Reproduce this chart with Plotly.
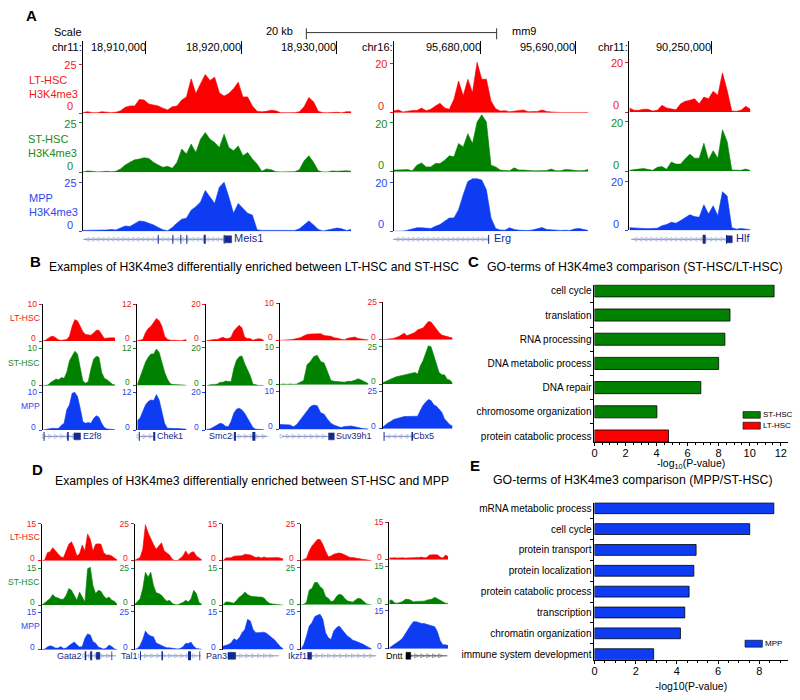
import numpy as np
import plotly.graph_objects as go

FONT = "Liberation Sans"
RED, GREEN, BLUE = "#fb0000", "#008200", "#0d3cf2"
TXT_R, TXT_G, TXT_B = "#f01818", "#1a8a1a", "#2a48ee"
NAVY, PALE = "#14298c", "#8795c8"

# ---------- Panel A ----------
A1_LT = [.3,.8,.3,.2,.8,.5,.3,.5,1.2,3,3.7,3.7,7,6.7,4.7,4.2,3.7,2.5,1.7,3.3,3.7,6.7,8.3,17.5,10,15,19.7,16.7,18.3,10.3,8.7,10,12.5,15.8,8.3,8.3,3.7,1,.7,1,1.5,1.2,.3,.2,.2,.3,.8,3.3,8,5.8,1,.3,.2,.5,.5,.2,.8,.7]
A1_ST = [.2,.7,.5,.2,.3,.5,.3,.5,1.7,3.7,5,6.3,6.7,7.3,7,5,3.7,2.5,3,2,5,11.7,9.2,14.2,10,16.7,20,16.7,15,12.5,19.2,12.5,10.8,13.3,8.3,10,6.7,4.2,.5,1.7,1.3,.3,.2,.2,.2,.3,1.3,5.8,8.3,5,.8,.2,.2,.7,.5,.7,.8,.5]
A1_MPP = [.5,.5,.7,.7,.8,.7,1,.7,1.7,2.7,2.5,3.7,5.3,5,4.2,3.3,2,.8,.3,2,4.2,6.2,6.7,10.8,12.5,15,20.8,17.5,14.2,22.5,25,17.5,9.2,14.2,11.7,9.2,8.3,.8,.5,.5,.7,.5,.5,.8,.5,.5,1.3,3.3,5.3,3.3,1,.2,.7,1.3,1.7,1.3,.5,1]
A2_LT = [.7,1.1,.3,.7,.9,.9,1.9,.8,1.4,2.7,3.8,1.9,1.4,5.4,12.8,6.8,13.5,8.1,20.3,13.5,13.5,4.7,1.6,.7,.8,.4,.7,.8,1.1,.4,.4,.5,1.1,.5,.3,.1,.1,.1,.1,.3,.4,.3,.1]
A2_ST = [.7,.9,.8,.9,.4,2.7,3.6,2,2,3.4,3.4,4.7,6.5,6.1,11.5,10.1,15.5,11.5,20.3,23.2,20.3,2.7,2,.7,.4,.4,1.6,.7,.7,.4,.4,.4,.4,.5,1.1,.4,.4,.9,.8,.5,.4,.5,.9]
A2_MPP = [0,0,0,.4,.8,1.4,1.4,1.4,1.1,2,2.7,4.1,5.4,5.4,8.8,14.9,20.3,21.4,21.4,20.9,16.9,5.4,1.1,.5,.4,1.4,.7,.4,.3,.3,.5,.9,1.5,.7,.5,.4,.3,.4,.3,.9,1.1,.7,.3]
A3_LT = [1.6,.7,.7,1.1,1.1,.4,.7,2.7,1.6,1.1,.9,3.3,4.3,4.7,5.3,3.3,6,5.3,8.3,6.7,15.7,8.7,.4,.3,.7,2.3,1.1]
A3_ST = [.4,.5,.9,1.1,.7,.4,1.6,1.9,.8,3.7,2.9,2.9,5.1,6.9,5.3,5.3,11.3,4.7,8.3,5.3,16.7,12,.5,.3,.4,.9,.3]
A3_MPP = [1.1,.9,.7,.8,.7,.7,.9,1.9,2.4,3.3,2.9,4,5.3,6.4,5.6,5.3,10.4,6.7,10,6,15.7,14,1.1,.5,.8,.4,.3]

# ---------- Panel B ----------
B1_LT = [0,.2,.7,1.2,1.3,.9,.3,.2,.2,.4,1.3,4,5.8,5.4,4,2.5,1.8,1.6,1.6,2.2,2.9,2.9,1.6,.7,.8,.9,.9,.8]
B1_ST = [0,.1,.2,.9,1.3,1.8,1.6,2.2,2,3.6,6.7,8,9.2,8.5,4.9,1.3,.7,1.1,4.5,7.1,7.9,7.6,3.6,2,1.6,1.1,.4,.2]
B1_MPP = [0,.2,.3,.4,.5,.4,.5,1.3,1.8,5.4,6.7,9.8,10,8.9,5.8,2.2,1.8,2,1.8,3.1,3.8,3.4,1.8,.7,.3,.2,.1,.1]
B2_LT = [.1,.3,.5,2.7,4.1,4.8,5.9,7.3,6.6,4.8,1.6,.6,.3,.2,.2,.1,.1,.3,.5]
B2_ST = [.2,2.7,5.4,7.5,9.1,10.2,10.2,11.8,10.7,7.5,4.3,2.1,.6,.3,.3,.2,.1,.1,0]
B2_MPP = [3,3.8,5.9,8,9.1,9.6,9.4,11.3,9.6,5.4,2.1,.6,.5,.4,.5,.5,.5,.4,.3]
B3_LT = [.2,.5,.7,.9,.9,1.4,2.1,1.4,1.4,2.1,5.4,7.1,8.6,7.1,2.1,1.4,1.4,.5,1.1,1.3,1.1,.4]
B3_ST = [0,.5,.7,.7,.9,1.8,1.8,2.5,2.3,2.1,8.9,13.4,15.2,15.7,11.6,8.9,5.4,.9,.4,.2,.2,0]
B3_MPP = [.5,.5,1.1,1.8,2.7,3.6,3.2,2.1,1.8,4.5,8.9,11.1,11.6,10.7,8.9,6.3,3.2,1.4,.5,.4,.2,.2]
B4_LT = [0,0,0,.2,.3,.4,.7,1.2,1.6,1.7,1.8,1.8,1.8,1.3,1.2,1.1,.7,.6,.3,.2,.6,.8,.9,.5,.3,.2,.1]
B4_ST = [0,.2,.1,.2,.1,.2,.7,1.1,5.3,6.2,7.5,7.8,6.2,5.8,3.5,1.1,.9,.8,.7,.7,.9,.9,1.2,1.6,1.2,.7,.3]
B4_MPP = [1.3,1.3,1.2,1.2,.7,1.3,2.5,3.7,4.9,6,6.4,6.2,4.4,4,2.7,1.6,1.1,.7,.5,.8,.9,.9,.7,.4,.3,.2,.1]
B5_LT = [0,.4,.4,.7,.9,1.3,2.2,3.3,4.4,2.7,3.3,4,4.9,6.7,7.1,7.8,10,12.2,11.8,9.3,7.1,4.9,3.1,2.7,2.2,1.8,1.1]
B5_ST = [.9,1.8,2.7,3.3,4,4.9,5.3,5.8,6.2,6.7,7.1,7.6,7.8,6.7,12.2,15.6,20,25.6,24.9,18.9,12.2,7.8,6.2,6.2,3.3,2.7,.7]
B5_MPP = [1.1,2.7,4,4.9,6.2,6.7,7.3,7.8,8.2,8.2,8.2,8.2,8.2,8.4,12.2,15.6,17.8,19.6,18.9,16,15.1,13.3,11.1,6.7,4.9,2.7,1.8]

# ---------- Panel D ----------
D1_LT = [0,.3,3.3,3.7,5.3,4,2.9,1.6,1.3,4,6.7,7.7,5.3,2,2.9,6.4,4,10.9,8.7,4,6.7,6.9,6.7,3.3,2.4,2.4,2,1.1,.4]
D1_ST = [.1,1.1,2,2.7,4.3,3.2,2.9,2.4,2.4,4,6.7,6,4,2,5.3,3.3,1.3,14.7,15.3,8,4.7,6,5.6,3.7,2.7,3.3,2,1.6,.4]
D1_MPP = [.1,.3,1.1,1.6,1.3,.7,.7,1.3,.5,.7,1.6,2.4,3.2,2,1.1,1.3,4.7,6.4,6,3.3,2.7,1.1,.8,.3,.7,1.9,1.3,.4,0]
D2_LT = [.4,1.1,2.2,7.8,24.4,18.9,14.4,11.1,7.8,10,12.2,6.7,5.6,4,1.1,.2,.2,1.8,3.3,6.7,4,5.6,6.2,3.3,1.8,.7]
D2_ST = [.4,2.2,4.4,11.1,22.2,18.9,22.2,13.3,8.4,7.8,6.7,4.4,2.7,3.3,1.1,.4,.2,1.1,1.8,3.3,2.2,4.4,10,7.8,1.8,.7]
D2_MPP = [.2,.7,2.7,6.7,12.2,10,8.9,8.4,4.4,3.3,2.7,1.8,1.1,1.1,.7,.7,.4,.7,1.8,4,4,4.9,2.2,.7,.4,.2]
D3_LT = [0,1.1,1.2,1.2,1.9,2,2.1,2.1,2.7,2.7,2.4,1.9,1.3,1.6,1.1,1.6,1.2,1.2,1.3,1.3,1.3,1.1,.7]
D3_ST = [0,1.3,1.3,1.1,.8,2,3.3,4,5.3,4.3,3.7,3.5,3.3,3.3,3.3,2.9,1.6,.8,.5,.3,.3,.1,0]
D3_MPP = [1.3,1.6,2,2.7,4.3,3.7,4.7,6.7,8,12,11.3,8,6.7,6.7,6.9,6.9,6.4,5.6,4.7,3.7,2.4,1.1,.3]
D4_LT = [0,.7,1.8,6.7,10,12.2,14.4,14.4,11.1,6.7,2.7,3.3,4.4,4.9,5.3,4.9,4,2.7,2.2,2.2,1.8,1.3,1.1,.9,.7,.2,0]
D4_ST = [0,.4,1.8,10,11.1,15.1,15.1,12.2,10.7,5.6,4.4,2.2,2.7,5.6,7.1,6.7,4.4,2.7,2.2,1.8,3.3,4.4,4,2.2,.7,.2,0]
D4_MPP = [.4,3.3,8.9,15.6,17.8,21.8,22.7,23.3,20,11.1,7.8,6.7,12.2,14.4,15.6,13.3,10.7,8.9,7.8,6.2,5.6,4.9,4.4,3.3,2.2,1.1,.4]
D5_LT = [.7,.9,.8,.7,.9,.8,.7,.7,.8,.8,.7,.9,1.1,.8,.9,1.9,2,2,2,1.1,.7,1.9,1.3]
D5_ST = [1.6,1.6,.5,.4,.7,1.1,1.9,1.9,1.6,.9,1.1,1.1,1.2,1.2,1.6,1.9,2,2.7,2.1,1.3,.9,.4,.3]
D5_MPP = [.4,1.1,1.6,2.4,3.3,4.3,6,8,9.3,10.7,10.7,10.4,10,10,9.6,9.3,9.1,8.7,6.7,3.3,1.6,1.6,1.3]

# ---------- Panels C, E ----------
C_TERMS = ["cell cycle","translation","RNA processing","DNA metabolic process","DNA repair","chromosome organization","protein catabolic process"]
C_VALUES = [11.57,8.73,8.4,8.0,6.85,4.02,4.77]
C_GROUP = ["ST-HSC"]*6 + ["LT-HSC"]
E_TERMS = ["mRNA metabolic process","cell cycle","protein transport","protein localization","protein catabolic process","transcription","chromatin organization","immune system development"]
E_VALUES = [8.7,7.53,4.93,4.82,4.59,4.38,4.17,2.87]

# gene models: name, line start, line end, arrow direction, thin/thick exons, boxes
GENES_A = [
 ("Meis1",82,224,"left",[(157.3,1),(172,1),(180,1),(186,1),(204,2),(223.5,1)],[(224,231)],233,"l"),
 ("Erg",393,489,"left",[(489,1)],[],494,"l"),
 ("Hlf",632,727,"left",[(705.3,3),(727.7,1)],[(728,733.5)],737.5,"l"),
]
GENES_B = [
 ("E2f8",43,77,"right",[(42.7,1),(66.7,1.6)],[(72.7,79.3)],81.5,"l"),
 ("Chek1",138,153,"right",[(138.3,1),(153.3,2)],[],156.5,"l"),
 ("Smc2",233.5,267,"right",[(234.3,2),(253.3,3)],[],231,"r"),
 ("Suv39h1",281.7,328.5,"right",[],[(328.3,334)],335.5,"l"),
 ("Cbx5",384,412,"left",[(384,1),(412.3,1.5)],[],413.5,"l"),
]
GENES_D = [
 ("Gata2",83.5,115,"right",[(84.3,1.5),(90,2),(110.7,.8)],[(95,98.7)],81,"r"),
 ("Tal1",139.5,200,"right",[(139.5,1),(161.3,1.5),(188.7,3),(199,.8)],[],137.5,"r"),
 ("Pan3",235,278.5,"right",[],[(227.3,235)],226.7,"r"),
 ("Ikzf1",311.3,376,"right",[],[(307.3,311.3)],306.7,"r"),
 ("Dntt",410.7,447.5,"right",[],[(406,410.7)],402.7,"r"),
]

W, H = 800, 700
OFFSET = 1.5
fig = go.Figure()
layout = {}
annos = []
shapes = []
ax_n = [0]


def px(x):
    return (x - OFFSET) / W


def py(y):
    return 1 - (y - OFFSET) / H


def new_axes(x0, x1, ytop, ybot, xcfg, ycfg):
    ax_n[0] += 1
    n = ax_n[0]
    layout[f"xaxis{n}"] = dict(domain=[px(x0), px(x1)], anchor=f"y{n}", **xcfg)
    layout[f"yaxis{n}"] = dict(domain=[py(ybot), py(ytop)], anchor=f"x{n}", **ycfg)
    return f"x{n}", f"y{n}"


def text(x, y, s, color="black", size=11, anchor="left", bold=False, xref=None):
    dy = 0.3 * size - 1.5 if size >= 10 else 0
    annos.append(dict(x=x if xref else px(x), y=py(y - dy), xref=xref or "paper", yref="paper",
                      text=f"<b>{s}</b>" if bold else s,
                      showarrow=False, xanchor=anchor, yanchor="middle", borderpad=0, borderwidth=0,
                      font=dict(family=FONT, size=size, color=color)))


def track(values, x0, x1, ytick, yzero, yaxis_top, ymax, color, tcolor, lw, tsize, zero_dx, zero_dy, shift):
    top = ymax * (yzero - yaxis_top) / (yzero - ytick)
    xa, ya = new_axes(x0, x1, yaxis_top, yzero,
                      dict(visible=False, range=[0, len(values) - 1], fixedrange=True),
                      dict(range=[0, top], showgrid=False, zeroline=False, showline=True, linecolor="black",
                           linewidth=lw, tickmode="array", tickvals=[0, ymax], ticktext=["", str(ymax)],
                           ticks="outside", ticklen=3, tickwidth=1, tickcolor=tcolor, ticklabelshift=shift,
                           tickfont=dict(family=FONT, size=tsize, color=tcolor), fixedrange=True))
    fig.add_trace(go.Scatter(x=list(range(len(values))), y=values, mode="lines", fill="tozeroy", fillcolor=color,
                             line=dict(color=color, width=0.6), xaxis=xa, yaxis=ya, showlegend=False,
                             hoverinfo="skip"))
    text(x0 - zero_dx, yzero - zero_dy, "0", tcolor, tsize, "right")


def gene_row(genes, yc, size, spacing):
    xa, ya = new_axes(OFFSET, W + OFFSET, yc - 8, yc + 8,
                      dict(visible=False, range=[OFFSET, W + OFFSET], fixedrange=True),
                      dict(visible=False, range=[-8, 8], fixedrange=True))
    for name, s, e, direction, exons, boxes, lx, side in genes:
        col = "black" if name == "Dntt" else NAVY
        pale = "#555555" if name == "Dntt" else PALE
        fig.add_trace(go.Scatter(x=[s, e], y=[0, 0], mode="lines", line=dict(color=pale, width=1), xaxis=xa, yaxis=ya,
                                 showlegend=False, hoverinfo="skip"))
        marks = list(np.arange(s + 2, e, spacing))
        fig.add_trace(go.Scatter(x=marks, y=[0] * len(marks), mode="markers",
                                 marker=dict(symbol=f"arrow-{direction}-open", size=4, color=pale,
                                             line=dict(color=pale, width=.5)),
                                 xaxis=xa, yaxis=ya, showlegend=False, hoverinfo="skip"))
        for pos, wd in exons:
            fig.add_trace(go.Scatter(x=[pos, pos], y=[-4.5, 4.5], mode="lines", line=dict(color=col, width=wd),
                                     xaxis=xa, yaxis=ya, showlegend=False, hoverinfo="skip"))
        for a, b in boxes:
            fig.add_trace(go.Scatter(x=[a, b, b, a, a], y=[-3.5, -3.5, 3.5, 3.5, -3.5], mode="lines", fill="toself",
                                     fillcolor=col, line=dict(color=col, width=.5), xaxis=xa, yaxis=ya,
                                     showlegend=False, hoverinfo="skip"))
        text(lx, yc, name, col, size, "left" if side == "l" else "right")


# ---------- A ----------
A_COLS = [
 (81.7, 351, 25, (A1_LT, A1_ST, A1_MPP), [(61, 110.5), (120, 170), (180, 229.5)]),
 (393.7, 589, 20, (A2_LT, A2_ST, A2_MPP), [(60, 110), (120, 169.5), (180, 229.3)]),
 (630.3, 751.7, 20, (A3_LT, A3_ST, A3_MPP), [(59, 109.3), (119, 169), (179, 228.5)]),
]
for x0, x1, ymax, series, ys in A_COLS:
    prev = 38
    for vals, (yt, yz), c, tc in zip(series, ys, (RED, GREEN, BLUE), (TXT_R, TXT_G, TXT_B)):
        track(vals, x0, x1, yt, yz, prev, ymax, c, tc, 1.2, 11, 10, 5, 1)
        prev = yz

HEAD = [
 (81.7, 351, [18903372, 18931571], [18910000, 18920000, 18930000], ["18,910,000", "18,920,000", "18,930,000"], "chr11:"),
 (393.7, 589, [95670811, 95691368], [95680000, 95690000], ["95,680,000", "95,690,000"], "chr16:"),
 (630.3, 751.7, [90241337, 90254147], [90250000], ["90,250,000"], "chr11:"),
]
for x0, x1, rng, tv, tt, chrom in HEAD:
    xa, ya = new_axes(x0, x1, 38, 51,
                      dict(range=rng, showgrid=False, zeroline=False, showline=False, tickmode="array", tickvals=tv,
                           showticklabels=False, ticks="inside", ticklen=13, tickwidth=1, tickcolor="black",
                           fixedrange=True),
                      dict(visible=False, range=[0, 1], fixedrange=True))
    fig.add_trace(go.Scatter(x=tv, y=[0] * len(tv), mode="markers", marker=dict(opacity=0), xaxis=xa, yaxis=ya,
                             showlegend=False, hoverinfo="skip"))
    for v, s in zip(tv, tt):
        text(v, 46, s, "black", 11, "right", xref=xa)
    text(x0 - 1.2, 46, chrom, "black", 11, "right")

gene_row(GENES_A, 237.5, 11, 5)

# ---------- B, D ----------
B_COLS = [
 (41.3, 114, 10, (B1_LT, B1_ST, B1_MPP), [(158, 270), (292, 405), (425, 539)]),
 (136.3, 185.7, 12, (B2_LT, B2_ST, B2_MPP), [(158, 270), (292, 404), (425, 539)]),
 (205.7, 263.3, 20, (B3_LT, B3_ST, B3_MPP), [(158, 270), (290, 405), (425, 539)]),
 (279.3, 368.3, 10, (B4_LT, B4_ST, B4_MPP), [(155, 268), (288, 402), (422, 537)]),
 (382.7, 452.7, 25, (B5_LT, B5_ST, B5_MPP), [(153, 266), (287, 400), (422, 535)]),
]
D_COLS = [
 (40.7, 116, 15, (D1_LT, D1_ST, D1_MPP), [(192, 304), (326, 438), (460, 573)]),
 (133.7, 201, 25, (D2_LT, D2_ST, D2_MPP), [(192, 304), (326, 438), (458, 572)]),
 (222.3, 282.7, 15, (D3_LT, D3_ST, D3_MPP), [(192, 304), (326, 438), (458, 572)]),
 (300.7, 371.7, 25, (D4_LT, D4_ST, D4_MPP), [(192, 304), (325, 437), (458, 572)]),
 (389.3, 448.3, 15, (D5_LT, D5_ST, D5_MPP), [(188, 301), (320, 435), (455, 570)]),
]
for cols, base in ((B_COLS, 250), (D_COLS, 460)):
    for x0, x1, ymax, series, ys in cols:
        prev = None
        for vals, (yt, yz), c, tc in zip(series, ys, (RED, GREEN, BLUE), (TXT_R, TXT_G, TXT_B)):
            ytick, yzero = base + yt / 3, base + yz / 3
            track(vals, x0, x1, ytick, yzero, prev if prev else ytick, ymax, c, tc, 1.1, 8.5, 7, 3, 0)
            prev = yzero

gene_row(GENES_B, 436, 9, 6)
gene_row(GENES_D, 657, 9, 6)

# ---------- C, E ----------
def barpanel(terms, values, colors, x0, x1, ytop, ybot, xmax, rng, gap, title, stand):
    xcfg = dict(range=[0, xmax], showgrid=False, zeroline=False, showline=True, linecolor="black", linewidth=1,
                tickmode="linear", tick0=0, dtick=2, ticks="outside", ticklen=3, tickcolor="black",
                ticklabelstandoff=-2,
                minor=dict(ticks="outside", dtick=.5, ticklen=2, tickcolor="black"),
                tickfont=dict(family=FONT, size=11, color="black"), fixedrange=True)
    if title:
        xcfg["title"] = dict(text=title, font=dict(family=FONT, size=10.5, color="black"), standoff=stand)
    xa, ya = new_axes(x0, x1, ytop, ybot, xcfg,
                      dict(type="category", categoryorder="array", categoryarray=terms, range=rng, showgrid=False,
                           zeroline=False, showline=True, linecolor="black", linewidth=1, ticks="outside", ticklen=3,
                           tickcolor="black", tickson="boundaries", tickfont=dict(family=FONT, size=10, color="black"),
                           fixedrange=True))
    fig.add_trace(go.Bar(x=values, y=terms, orientation="h", width=1 - gap,
                         marker=dict(color=colors, line=dict(color="black", width=.8)), xaxis=xa, yaxis=ya,
                         showlegend=False, hoverinfo="skip"))


C_COLORS = [GREEN if g == "ST-HSC" else RED for g in C_GROUP]
barpanel(C_TERMS, C_VALUES, C_COLORS, 595.2, 789.5, 283.3, 441.7, 12.47, [6.25, -0.25], .5, None, 0)
barpanel(E_TERMS, E_VALUES, [BLUE] * len(E_TERMS), 595.2, 789.5, 502.7, 661, 9.39, [7.27, -0.27], .48, "-log10(P-value)", 6)
text(692, 465.5, "-log<sub>10</sub>(P-value)", "black", 10.5, "center")

def legend_box(x0, x1, y0, y1, color, label):
    shapes.append(dict(type="rect", xref="paper", yref="paper", x0=px(x0), x1=px(x1), y0=py(y1), y1=py(y0),
                       fillcolor=color, line=dict(color="black", width=.6)))
    text(x1 + 2.5, (y0 + y1) / 2, label, "black", 8)


legend_box(744.3, 761.7, 411, 417.7, GREEN, "ST-HSC")
legend_box(744.3, 761.7, 421.7, 428.7, RED, "LT-HSC")
legend_box(746.3, 763.7, 641.3, 648.3, BLUE, "MPP")

# ---------- labels ----------
for s, x, y in (("A", 30, 15), ("B", 34, 263), ("C", 474, 263), ("D", 36, 472), ("E", 475, 468)):
    text(x, y, s, "black", 15, "center", True)
text(253, 268, "Examples of H3K4me3 differentially enriched between LT-HSC and ST-HSC", "black", 12.2, "center")
text(251.5, 483, "Examples of H3K4me3 differentially enriched between ST-HSC and MPP", "black", 12.2, "center")
text(635.5, 268, "GO-terms of H3K4me3 comparison (ST-HSC/LT-HSC)", "black", 12.3, "center")
text(633.5, 482, "GO-terms of H3K4me3 comparison (MPP/ST-HSC)", "black", 12.3, "center")

text(81, 30.5, "Scale", "black", 11, "right")
text(279, 29, "20 kb", "black", 11, "center")
text(512, 29, "mm9", "black", 11, "left")
for seg in ((306, 497, 29.3, 29.3), (306, 306, 25, 36), (497, 497, 25, 36)):
    shapes.append(dict(type="line", xref="paper", yref="paper", x0=px(seg[0]), x1=px(seg[1]), y0=py(seg[2]), y1=py(seg[3]),
                       line=dict(color="#333333", width=1)))

for top, bottom, y0, tc in (("LT-HSC", "H3K4me3", 79, TXT_R), ("ST-HSC", "H3K4me3", 138, TXT_G), ("MPP", "H3K4me3", 198, TXT_B)):
    text(28 if top != "ST-HSC" else 27, y0, top, tc, 11)
    text(28 if top != "ST-HSC" else 27, y0 + 14, bottom, tc, 11)
for s, y, tc in (("LT-HSC", 316.7, TXT_R), ("ST-HSC", 361.7, TXT_G), ("MPP", 405.7, TXT_B),
                 ("LT-HSC", 537.7, TXT_R), ("ST-HSC", 582.3, TXT_G), ("MPP", 627, TXT_B)):
    text(39, y, s, tc, 8.6, "right")

fig.update_layout(width=W, height=H, margin=dict(l=0, r=0, t=0, b=0), paper_bgcolor="white", plot_bgcolor="rgba(0,0,0,0)",
                  showlegend=False, annotations=annos, shapes=shapes, font=dict(family=FONT), **layout)
fig.write_html("out.html", config=dict(displayModeBar=False), post_script="document.body.style.margin='0';")
